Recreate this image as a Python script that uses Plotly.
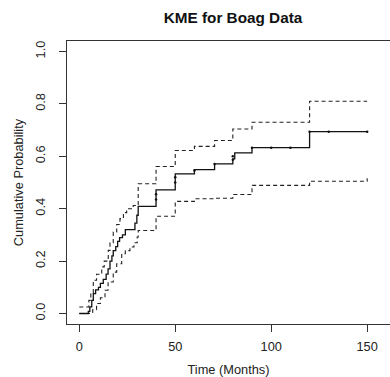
import plotly.graph_objects as go

# Kaplan-Meier estimate (cumulative probability) step data
km_time = [0, 4.7, 5.5, 6.5, 7.3, 8.5, 10, 11, 12.5, 14, 15, 16, 17, 17.7, 19, 20, 21, 22.5, 24, 29, 30, 30.7, 40, 50, 60, 70.5, 80, 81, 90, 120, 150]
km_prob = [0.0, 0.008, 0.025, 0.05, 0.076, 0.09, 0.10, 0.115, 0.13, 0.15, 0.17, 0.20, 0.22, 0.24, 0.255, 0.275, 0.29, 0.30, 0.32, 0.345, 0.375, 0.409, 0.472, 0.533, 0.549, 0.571, 0.59, 0.613, 0.633, 0.694, 0.694]

# Upper confidence band
up_time = [0, 5, 6, 7.3, 9, 11.7, 13, 15.1, 16, 17.7, 19.5, 21.2, 23, 24.7, 28.1, 30.7, 40, 50, 60, 70.5, 80, 90, 120, 150]
up_prob = [0.025, 0.05, 0.08, 0.127, 0.15, 0.178, 0.20, 0.241, 0.27, 0.311, 0.34, 0.362, 0.385, 0.40, 0.412, 0.495, 0.561, 0.622, 0.638, 0.66, 0.704, 0.73, 0.81, 0.81]

# Lower confidence band
lo_time = [0, 5.3, 7, 9, 11, 13.4, 15, 17.7, 19.5, 22.1, 24, 26.4, 28.5, 30.2, 30.7, 40, 50, 60, 70.5, 80, 90, 120, 150]
lo_prob = [0.0, 0.005, 0.015, 0.038, 0.06, 0.089, 0.12, 0.158, 0.19, 0.228, 0.24, 0.254, 0.27, 0.292, 0.317, 0.371, 0.428, 0.438, 0.44, 0.454, 0.489, 0.505, 0.516]

# Censoring marks
cens_time = [40, 40, 50, 50, 60, 70.5, 80, 80, 90, 100, 110, 120, 130, 150]
cens_prob = [0.435, 0.455, 0.50, 0.52, 0.546, 0.571, 0.587, 0.60, 0.633, 0.633, 0.633, 0.694, 0.694, 0.694]

x_ticks = [0, 50, 100, 150]
y_ticks = [0.0, 0.2, 0.4, 0.6, 0.8, 1.0]

fig = go.Figure()
for t, p in [(up_time, up_prob), (lo_time, lo_prob)]:
    fig.add_trace(go.Scatter(x=t, y=p, mode="lines", line_shape="hv",
                             line=dict(color="#222222", width=1.1, dash="4px,3px"),
                             showlegend=False, hoverinfo="skip"))
fig.add_trace(go.Scatter(x=km_time, y=km_prob, mode="lines", line_shape="hv",
                         line=dict(color="#111111", width=1.3), showlegend=False))
fig.add_trace(go.Scatter(x=cens_time, y=cens_prob, mode="markers",
                         marker=dict(color="#111111", size=2.5, symbol="circle"),
                         showlegend=False))

font = "Liberation Sans, Arial, sans-serif"
fs = 12.8
fig.update_layout(
    width=390, height=377,
    margin=dict(l=67, r=0, t=41, b=53),
    paper_bgcolor="white", plot_bgcolor="white",
    font=dict(family=font, size=fs, color="#222222"),
    title=dict(text="<b>KME for Boag Data</b>", x=233/390, xref="container", xanchor="center",
               y=1 - 18/377, yref="container", yanchor="middle",
               font=dict(family=font, size=15.3, color="#111111")),
    xaxis=dict(range=[-6.4, 161.9], tickvals=x_ticks, ticktext=[str(v) for v in x_ticks],
               showgrid=False, zeroline=False, showline=True, linecolor="#333333", linewidth=1,
               mirror=True, ticks="outside", ticklen=7, tickcolor="#333333",
               ticklabelstandoff=4, tickfont=dict(size=fs),
               title=dict(text="Time (Months)", font=dict(size=fs), standoff=12)),
    yaxis=dict(range=[-0.04, 1.04], tickvals=y_ticks, ticktext=[f"{v:.1f}" for v in y_ticks],
               showgrid=False, zeroline=False, showline=True, linecolor="#333333", linewidth=1,
               mirror=False, ticks="outside", ticklen=7, tickcolor="#333333", tickangle=-90,
               ticklabelstandoff=9, tickfont=dict(size=fs),
               title=dict(text="Cumulative Probability", font=dict(size=fs), standoff=6)),
)
fig.write_html("out.html")
